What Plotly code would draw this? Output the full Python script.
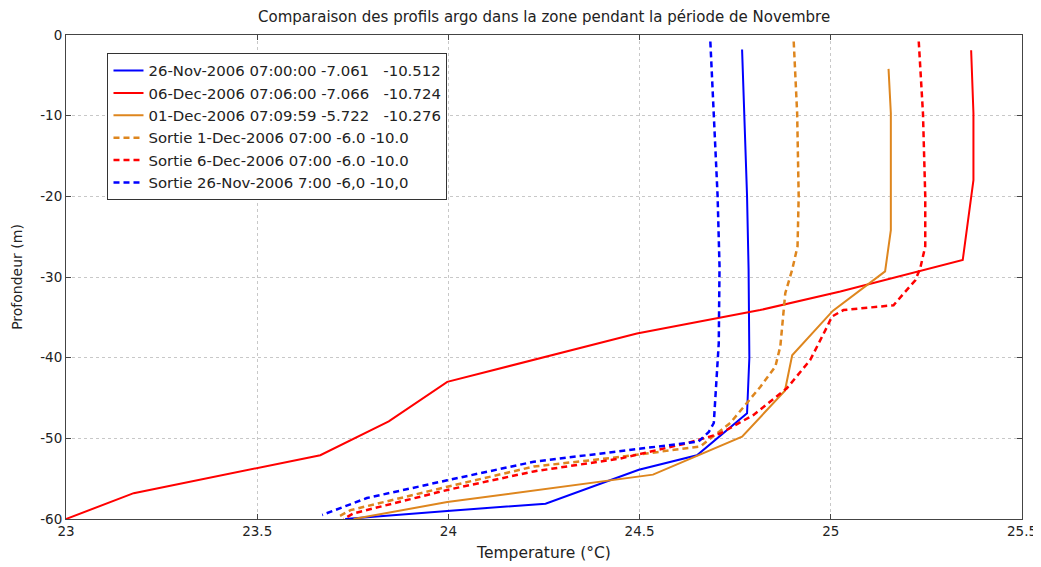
import plotly.graph_objects as go

# ---- data (temperature in °C, depth in m) ----
blue_solid_T = [24.768, 24.774, 24.781, 24.785, 24.787, 24.781, 24.650, 24.498, 24.254, 23.997, 23.730]
blue_solid_D = [-1.8, -9.7, -20.0, -29.0, -40.0, -46.9, -52.1, -53.9, -58.1, -59.0, -60.0]

red_solid_T = [25.367, 25.373, 25.373, 25.345, 25.025, 24.815, 24.493, 23.997, 23.844, 23.665, 23.177, 23.0]
red_solid_D = [-1.9, -9.7, -18.0, -27.9, -31.8, -34.1, -37.0, -43.0, -47.9, -52.1, -56.8, -60.0]

orange_solid_T = [25.151, 25.157, 25.157, 25.157, 25.142, 25.005, 24.899, 24.880, 24.768, 24.535, 23.997, 23.752]
orange_solid_D = [-4.2, -9.7, -20.0, -24.2, -29.3, -34.2, -39.7, -44.1, -49.8, -54.5, -57.9, -60.0]

orange_dash_T = [24.903, 24.912, 24.916, 24.913, 24.899, 24.881, 24.868, 24.855, 24.816, 24.737, 24.659, 24.45, 24.223, 23.997, 23.744, 23.709]
orange_dash_D = [-0.8, -9.7, -20.0, -26.2, -29.1, -32.0, -38.6, -41.1, -43.6, -48.1, -51.0, -52.3, -53.5, -56.0, -58.9, -59.8]

red_dash_T = [25.230, 25.241, 25.247, 25.247, 25.234, 25.221, 25.164, 25.033, 25.003, 24.990, 24.946, 24.885, 24.798, 24.711, 24.624, 24.45, 24.223, 23.997, 23.752, 23.726]
red_dash_D = [-0.8, -9.7, -20.0, -26.2, -28.9, -30.4, -33.5, -34.1, -34.9, -36.2, -40.3, -43.8, -47.1, -49.4, -50.6, -52.5, -54.1, -56.4, -59.3, -60.0]

blue_dash_T = [24.685, 24.694, 24.704, 24.709, 24.707, 24.694, 24.681, 24.654, 24.45, 24.223, 23.997, 23.787, 23.670]
blue_dash_D = [-0.8, -9.7, -20.0, -28.7, -38.2, -48.1, -49.2, -50.4, -51.6, -52.9, -55.2, -57.4, -59.5]

names = [
    "26-Nov-2006 07:00:00 -7.061\u00a0\u00a0 -10.512",
    "06-Dec-2006 07:06:00 -7.066\u00a0\u00a0 -10.724",
    "01-Dec-2006 07:09:59 -5.722\u00a0\u00a0 -10.276",
    "Sortie 1-Dec-2006 07:00 -6.0 -10.0",
    "Sortie 6-Dec-2006 07:00 -6.0 -10.0",
    "Sortie 26-Nov-2006 7:00 -6,0 -10,0",
]

x_ticks = [23, 23.5, 24, 24.5, 25, 25.5]
y_ticks = [0, -10, -20, -30, -40, -50, -60]

BLUE = "#0000FF"
RED = "#FF0000"
ORANGE = "#DE861E"
DASH = "6px,4px"

series = [
    (blue_solid_T, blue_solid_D, BLUE, "solid", 2),
    (red_solid_T, red_solid_D, RED, "solid", 2),
    (orange_solid_T, orange_solid_D, ORANGE, "solid", 2),
    (orange_dash_T, orange_dash_D, ORANGE, DASH, 2.5),
    (red_dash_T, red_dash_D, RED, DASH, 2.5),
    (blue_dash_T, blue_dash_D, BLUE, DASH, 2.5),
]

fig = go.Figure()
for (T, D, col, dash, w), nm in zip(series, names):
    fig.add_trace(go.Scatter(x=T, y=D, mode="lines", name=nm,
                             line=dict(color=col, dash=dash, width=w)))

FONT = "DejaVu Sans, Verdana, sans-serif"
TXT = "#222"
# page body has an 8px margin: figure is sized to fit the 1041x567 window
W, H = 1033, 559
fig.update_layout(
    width=W, height=H,
    margin=dict(l=57.5, r=19.3, t=27.3, b=47.7, autoexpand=False),
    paper_bgcolor="white", plot_bgcolor="white",
    font=dict(family=FONT, size=13, color=TXT),
    title=dict(text="Comparaison des profils argo dans la zone pendant la période de Novembre",
               x=0.519, xanchor="center", y=1 - 3 / H, yanchor="top",
               font=dict(size=15, family=FONT, color=TXT)),
    showlegend=True,
    legend=dict(x=0.0434, y=0.962, xanchor="left", yanchor="top",
                bgcolor="white", bordercolor="#333", borderwidth=1,
                font=dict(size=14.9, color=TXT, family=FONT)),
    xaxis=dict(range=[23, 25.5], tickvals=x_ticks, ticktext=[str(v) for v in x_ticks],
               showline=True, linecolor="#444", linewidth=1, mirror="ticks",
               ticks="inside", ticklen=5, tickcolor="#444", automargin=False,
               showgrid=True, gridcolor="#c8c8c8", griddash="dot", gridwidth=1,
               zeroline=False,
               title=dict(text="Temperature (°C)", standoff=8, font=dict(size=15.5, family=FONT)),
               tickfont=dict(size=13.5, family=FONT)),
    yaxis=dict(range=[-60, 0], tickvals=y_ticks, ticktext=[str(v) for v in y_ticks],
               showline=True, linecolor="#444", linewidth=1, mirror="ticks",
               ticks="inside", ticklen=5, tickcolor="#444", automargin=False,
               showgrid=True, gridcolor="#c8c8c8", griddash="dot", gridwidth=1,
               zeroline=False,
               title=dict(text="Profondeur (m)", standoff=14, font=dict(size=14, family=FONT)),
               tickfont=dict(size=13.5, family=FONT)),
)

fig.write_html("out.html")
